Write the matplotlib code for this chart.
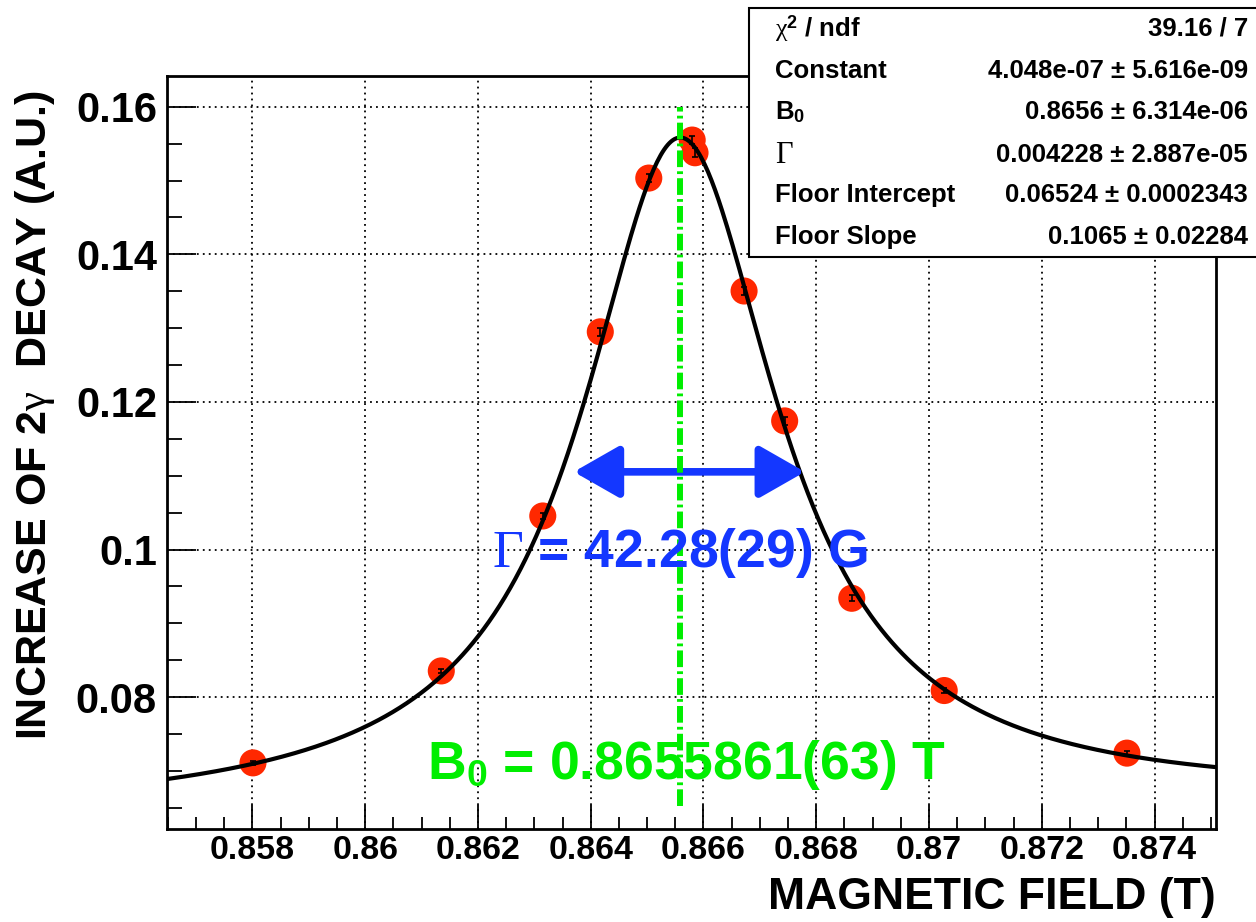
import numpy as np
import matplotlib.pyplot as plt
from matplotlib.patches import Rectangle
from matplotlib.ticker import MultipleLocator, FixedLocator

plt.rcParams['font.family'] = ['Liberation Sans', 'DejaVu Sans']
plt.rcParams['font.weight'] = 'bold'
plt.rcParams['mathtext.fontset'] = 'custom'
plt.rcParams['mathtext.rm'] = 'Liberation Serif:weight=normal'
plt.rcParams['mathtext.it'] = 'Liberation Serif:italic'
plt.rcParams['mathtext.bf'] = 'Liberation Sans:bold'
plt.rcParams['lines.scale_dashes'] = False

# measured 2-gamma increase vs magnetic field
field = [0.85801, 0.86135, 0.86315, 0.86417, 0.86503, 0.86580,
         0.86585, 0.86672, 0.86744, 0.86863, 0.87027, 0.87351]
signal = [0.0711, 0.08356, 0.10455, 0.1295, 0.15033, 0.15548,
          0.15376, 0.13503, 0.11743, 0.0934, 0.0809, 0.07242]
signal_err = [0.0003, 0.0003, 0.0004, 0.0005, 0.0005, 0.0006,
              0.0006, 0.0005, 0.0005, 0.0004, 0.0003, 0.0003]

# Lorentzian + linear floor fit result
const = 4.048e-07
b0 = 0.8655861
gamma = 0.004228
floor_int = 0.06524
floor_slope = 0.1065

# stat box rows
stat_names = [r'$\mathrm{\chi}^{\mathbf{2}}$ / ndf', 'Constant', r'B$_{\mathbf{0}}$',
              r'$\mathrm{\Gamma}$', 'Floor Intercept', 'Floor Slope']
stat_values = ['39.16 / 7', '4.048e-07 ± 5.616e-09', '0.8656 ± 6.314e-06',
               '0.004228 ± 2.887e-05', '0.06524 ± 0.0002343', '0.1065 ± 0.02284']

# width arrow end points (T)
arrow_x = [0.8637, 0.8678]

xlim = (0.85648, 0.87509)
ylim = (0.0621, 0.1642)

W, H = 1256, 922


def px(x, y):
    return x / W, 1 - y / H


def model(x):
    return const / ((x - b0) ** 2 + (gamma / 2) ** 2) + floor_int + floor_slope * (x - b0)


fig = plt.figure(figsize=(W / 100, H / 100), dpi=100)
ax = fig.add_axes([166.7 / W, 1 - 829.3 / H, (1216 - 166.7) / W, (829.3 - 75.7) / H])
ax.set_xlim(*xlim)
ax.set_ylim(*ylim)

ax.xaxis.set_major_locator(FixedLocator(np.arange(0.858, 0.8751, 0.002)))
ax.xaxis.set_minor_locator(MultipleLocator(0.0005))
ax.yaxis.set_major_locator(FixedLocator([0.08, 0.10, 0.12, 0.14, 0.16]))
ax.yaxis.set_minor_locator(MultipleLocator(0.005))
ax.set_xticklabels(['0.858', '0.86', '0.862', '0.864', '0.866', '0.868', '0.87', '0.872', '0.874'])
ax.set_yticklabels(['0.08', '0.1', '0.12', '0.14', '0.16'])

ax.tick_params(axis='x', which='major', direction='in', length=17, width=1.3, labelsize=24.5, pad=4)
ax.tick_params(axis='x', which='minor', direction='in', length=8.5, width=1.3)
ax.tick_params(axis='y', which='major', direction='in', length=21, width=1.3, labelsize=30, pad=7)
ax.tick_params(axis='y', which='minor', direction='in', length=11, width=1.3)
for s in ax.spines.values():
    s.set_linewidth(2)

ax.grid(True, which='major', color='black', linestyle=(0, (1.3, 3)), linewidth=1.3, zorder=0)
ax.set_axisbelow(True)

# data points with error bars
ax.scatter(field, signal, s=19.5 ** 2, color='#ff2800', edgecolors='none', zorder=3)
ax.errorbar(field, signal, yerr=signal_err, fmt='none', ecolor='black',
            elinewidth=1.2, capsize=2.5, capthick=1.2, zorder=4)

# fit curve
xs = np.linspace(xlim[0], xlim[1], 600)
ax.plot(xs, model(xs), color='black', linewidth=3, zorder=5)

# FWHM arrow
half_max = model(b0) - const / (gamma / 2) ** 2 / 2
ax.annotate('', xy=(arrow_x[1], half_max), xytext=(arrow_x[0], half_max),
            arrowprops=dict(arrowstyle='<|-|>,head_length=28,head_width=16',
                            mutation_scale=1, color='#1437ff', lw=5.5,
                            shrinkA=0, shrinkB=0),
            zorder=6)

# resonance centre
ax.plot([b0, b0], [floor_int, 0.16], color='#00ee00', linewidth=4.3,
        dashes=(12, 3, 2, 3), zorder=7)

fig.text(*px(492, 567), r'$\mathrm{\Gamma}$ = 42.28(29) G', color='#1437ff',
         fontsize=38.5, ha='left', va='baseline', zorder=6)
fig.text(*px(427, 779), r'B$_{\mathbf{0}}$ = 0.8655861(63) T', color='#00ee00',
         fontsize=38.5, ha='left', va='baseline', zorder=6)

# axis titles
fig.text(*px(35, 90), r'INCREASE OF 2$\mathrm{\gamma}$  DECAY (A.U.)', rotation=90,
         fontsize=31, ha='center', va='top')
fig.text(*px(1216, 877), 'MAGNETIC FIELD (T)', fontsize=32, ha='right', va='top')

# fit statistics box
fig.add_artist(Rectangle(px(749, 257), (1300 - 749) / W, (257 - 8) / H,
                         transform=fig.transFigure, facecolor='white',
                         edgecolor='black', linewidth=1.5, zorder=8))
row_y = [29, 71, 112, 155, 195, 237]
for name, val, y in zip(stat_names, stat_values, row_y):
    size = 22 if 'Gamma' in name else 18.5
    fig.text(*px(775, y), name, fontsize=size, ha='left', va='center', zorder=9)
    fig.text(*px(1248, y), val, fontsize=18.5, ha='right', va='center', zorder=9)

fig.savefig('out.png', dpi=100)
